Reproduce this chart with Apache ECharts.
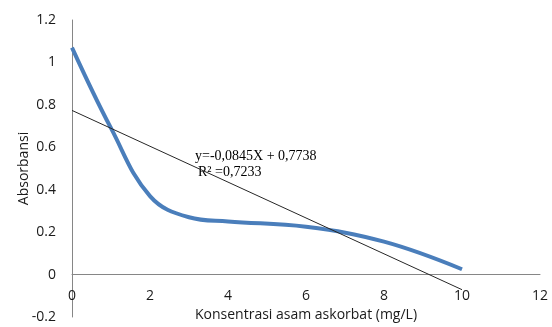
<!DOCTYPE html>
<html><head><meta charset="utf-8">
<script src="https://cdn.jsdelivr.net/npm/echarts@6/dist/echarts.min.js"></script>
<style>html,body{margin:0;padding:0;background:#fff}#c{width:552px;height:327px}</style>
</head><body><div id="c"></div>
<script>
const concentration = [0, 1, 2, 3, 4, 6, 8, 10];
const absorbance = [1.07, 0.69, 0.37, 0.27, 0.25, 0.225, 0.155, 0.025];
const slope = -0.0845;
const intercept = 0.7738;
const trendX = [0, 10];
const equationText = 'y=-0,0845X + 0,7738';
const r2Text = 'R² =0,7233';
const yTicks = {min: -0.2, max: 1.2, interval: 0.2};
const xTicks = {min: 0, max: 12, interval: 2};

const trendData = trendX.map(x => [x, intercept + slope * x]);
const chart = echarts.init(document.getElementById('c'));
const font = '"Open Sans", sans-serif';
const axisColor = '#868686';
const textColor = '#1a1a1a';
chart.setOption({
  animation: false,
  grid: [
    {left: 72, right: 12, top: 20, bottom: 10, containLabel: false, outerBoundsMode: 'none'},
    {left: 72, right: 12, top: 20, bottom: 53, containLabel: false, outerBoundsMode: 'none'}
  ],
  xAxis: [
    {type: 'value', gridIndex: 0, min: xTicks.min, max: xTicks.max, interval: xTicks.interval,
     axisLine: {show: false}, axisTick: {show: false}, splitLine: {show: false},
     axisLabel: {show: false}},
    {type: 'value', gridIndex: 1, min: xTicks.min, max: xTicks.max, interval: xTicks.interval,
     axisLine: {show: true, onZero: false, lineStyle: {color: axisColor, width: 1}},
     axisTick: {show: false}, splitLine: {show: false},
     axisLabel: {color: textColor, fontSize: 14, fontFamily: font, margin: 15},
     name: 'Konsentrasi asam askorbat (mg/L)', nameLocation: 'middle', nameGap: 26,
     nameTextStyle: {color: textColor, fontSize: 14, fontFamily: font}}
  ],
  yAxis: [
    {type: 'value', gridIndex: 0, min: yTicks.min, max: yTicks.max, interval: yTicks.interval,
     axisLine: {show: true, onZero: false, lineStyle: {color: axisColor, width: 1}},
     axisTick: {show: false}, splitLine: {show: false},
     axisLabel: {color: textColor, fontSize: 14, fontFamily: font, margin: 16,
       formatter: v => String(Math.round(v * 10) / 10)},
     name: 'Absorbansi', nameLocation: 'middle', nameGap: 41, nameRotate: 90,
     nameMoveOverlap: false,
     nameTextStyle: {color: textColor, fontSize: 14, fontFamily: font}},
    {type: 'value', gridIndex: 1, min: 0, max: yTicks.max, show: false}
  ],
  series: [
    {type: 'line', xAxisIndex: 0, yAxisIndex: 0,
     data: concentration.map((x, i) => [x, absorbance[i]]), smooth: 0.4,
     showSymbol: false, lineStyle: {color: '#4A7EBB', width: 4}, z: 3},
    {type: 'line', xAxisIndex: 0, yAxisIndex: 0, data: trendData, showSymbol: false,
     lineStyle: {color: '#262626', width: 1}, z: 4}
  ],
  graphic: [
    {type: 'text', left: 195, top: 149, style: {text: equationText, font: '14px "Liberation Serif", serif', fill: '#000'}},
    {type: 'text', left: 198, top: 165, style: {text: r2Text, font: '14px "Liberation Serif", serif', fill: '#000'}}
  ]
});
</script></body></html>
